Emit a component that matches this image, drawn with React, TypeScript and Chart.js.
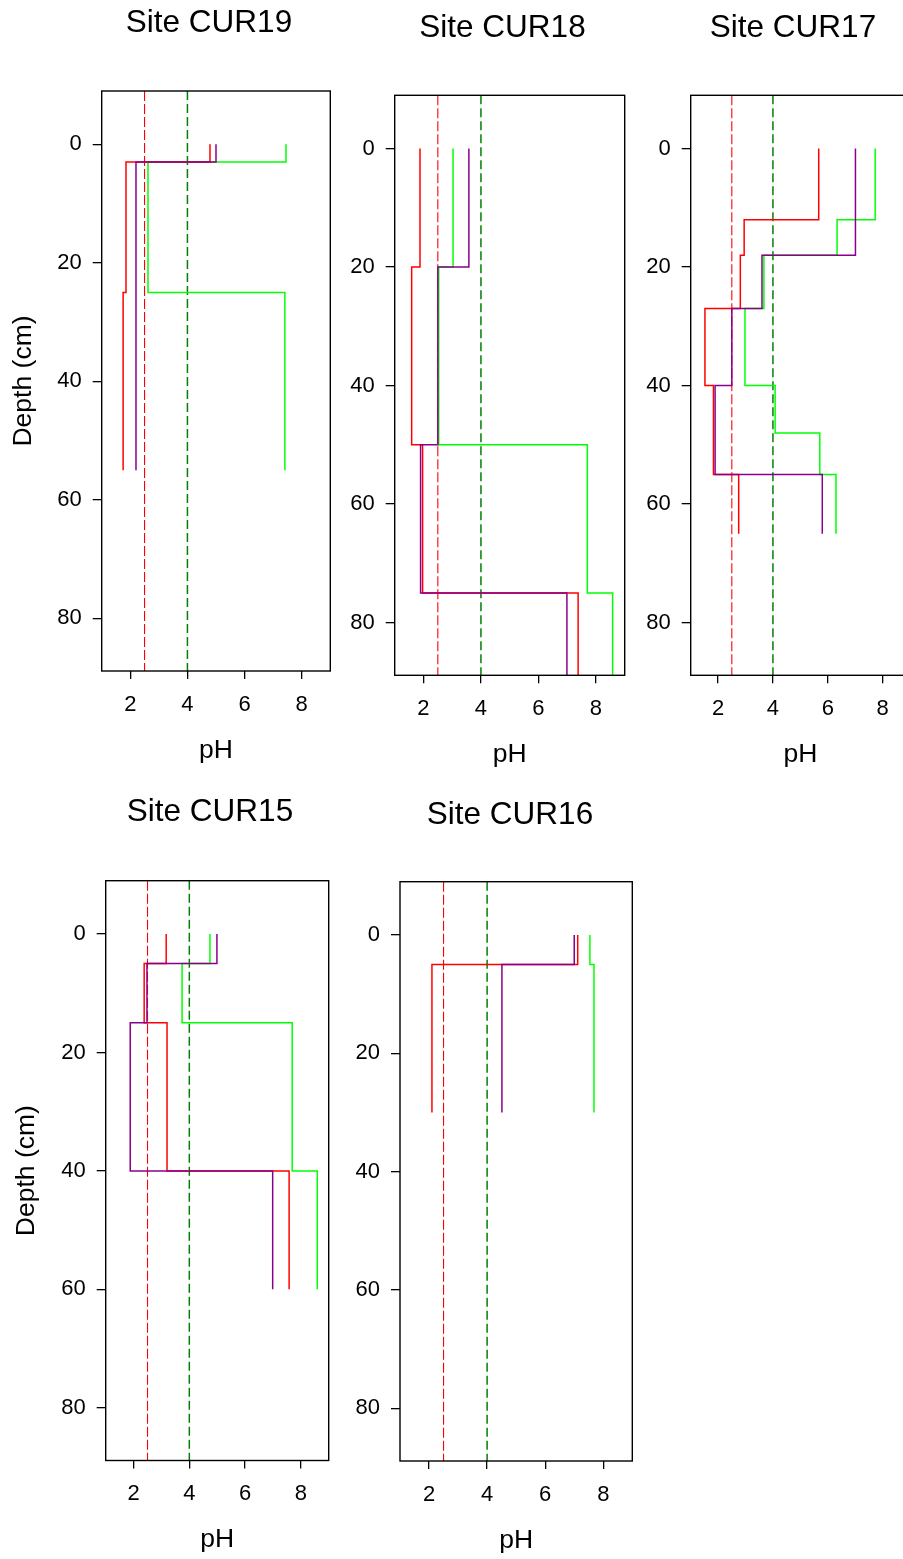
import React, { useEffect, useRef } from "react";
import { Chart, registerables } from "chart.js";

Chart.register(...registerables);

const FONT = "'Liberation Sans', Arial, Helvetica, sans-serif";

// ---- data ----
const siteTitles = ["Site CUR19", "Site CUR18", "Site CUR17", "Site CUR15", "Site CUR16"];

const phTicks = [2, 4, 6, 8];
const depthTicks = [0, 20, 40, 60, 80];
const phRange = [1, 9];
const depthRange = [-9, 88.9];
const thresholdRed = 2.5;
const thresholdGreen = 4;

const cur19Depth = [0, 3, 25, 55];
const cur19Red = [4.79, 1.85, 1.75];
const cur19Green = [7.45, 2.62, 7.41];
const cur19Purple = [5.0, 2.2, 2.2];

const cur18Depth = [0, 20, 50, 75, 95];
const cur18Red = [1.88, 1.59, 1.97, 7.38];
const cur18Green = [3.03, 2.53, 7.7, 8.58];
const cur18Purple = [3.58, 2.5, 1.9, 6.99];

const cur17Depth = [0, 12, 18, 27, 40, 48, 55, 65];
const cur17Red = [5.67, 2.95, 2.81, 1.52, 1.83, 1.83, 2.75];
const cur17Green = [7.73, 6.34, 3.67, 2.98, 4.08, 5.71, 6.3];
const cur17Purple = [7.01, 7.01, 3.6, 2.5, 1.89, 1.89, 5.8];

const cur15Depth = [0, 5, 15, 40, 60];
const cur15Red = [3.17, 2.38, 3.2, 7.58];
const cur15Green = [4.74, 3.74, 7.69, 8.59];
const cur15Purple = [4.99, 2.48, 1.88, 6.99];

const cur16Depth = [0, 5, 30];
const cur16Red = [7.12, 2.1];
const cur16Green = [7.54, 7.68];
const cur16Purple = [7.0, 4.51];

const seriesColors = { red: "#FF0000", green: "#00FF00", purple: "#8B008B" };
const refColors = { red: "#FF0000", green: "#007F00" };

// ---- layout (page px) ----
type Geo = {
  cl: number; ct: number; cw: number; ch: number;
  areaL: number; areaR: number; areaT: number; areaB: number;
  titleCY: number; yTitleCX: number;
};

const geos: Geo[] = [
  { cl: 0, ct: 0, cw: 418, ch: 771, areaL: 101.7, areaR: 330.3, areaT: 91, areaB: 671, titleCY: 23.5, yTitleCX: 24 },
  { cl: 340, ct: 0, cw: 325, ch: 776, areaL: 394.7, areaR: 624.7, areaT: 95.3, areaB: 675.3, titleCY: 28.5, yTitleCX: 0 },
  { cl: 640, ct: 0, cw: 306, ch: 776, areaL: 690.7, areaR: 910, areaT: 95.3, areaB: 675.3, titleCY: 28.5, yTitleCX: 0 },
  { cl: 0, ct: 780, cw: 420, ch: 780, areaL: 105.7, areaR: 328.7, areaT: 880.7, areaB: 1460.5, titleCY: 812.5, yTitleCX: 27 },
  { cl: 340, ct: 780, cw: 340, ch: 780, areaL: 400, areaR: 632.3, areaT: 881.7, areaB: 1461, titleCY: 815.5, yTitleCX: 0 },
];

function stepPoints(depths: number[], values: number[]) {
  const pts: { x: number; y: number }[] = [];
  values.forEach((v, i) => {
    pts.push({ x: v, y: depths[i] });
    pts.push({ x: v, y: depths[i + 1] });
  });
  return pts;
}

const framePlugin = {
  id: "frame",
  afterDraw(chart: any) {
    const { ctx, chartArea: a } = chart;
    ctx.save();
    ctx.strokeStyle = "#000";
    ctx.lineWidth = 1.4;
    ctx.strokeRect(a.left, a.top, a.right - a.left, a.bottom - a.top);
    ctx.restore();
  },
};

type PanelProps = {
  title: string;
  depths: number[];
  red: number[];
  green: number[];
  purple: number[];
  geo: Geo;
  showDepth: boolean;
};

function Panel({ title, depths, red, green, purple, geo, showDepth }: PanelProps) {
  const ref = useRef<HTMLCanvasElement | null>(null);

  useEffect(() => {
    if (!ref.current) return;
    const titleSize = 31.5;
    const titleLH = titleSize * 1.2;
    const labelSize = 26.5;
    const labelLH = labelSize * 1.2;
    const tickSize = 22;
    const tickLH = tickSize * 1.2;

    const yW = geo.areaL - geo.cl;
    const spacer = geo.cl + geo.cw - geo.areaR;
    const titlePadTop = geo.titleCY - geo.ct - titleLH / 2;
    const titlePadBottom = geo.areaT - geo.ct - titlePadTop - titleLH;
    const xH = geo.ct + geo.ch - geo.areaB;
    const phOffset = 79.5;
    const phPadBottom = xH - labelLH / 2 - phOffset;
    const yTitlePadTop = showDepth ? geo.yTitleCX - geo.cl - labelLH / 2 : 0;
    const xTickLen = 8;
    const xTickPad = 33.5 - xTickLen - tickLH / 2;

    const lineBase = { showLine: true, pointRadius: 0, pointHoverRadius: 0, fill: false, clip: 0, tension: 0 };

    const chart = new Chart(ref.current, {
      type: "scatter",
      data: {
        datasets: [
          { ...lineBase, label: "purple", data: stepPoints(depths, purple), borderColor: seriesColors.purple, borderWidth: 1.5 },
          { ...lineBase, label: "red", data: stepPoints(depths, red), borderColor: seriesColors.red, borderWidth: 1.5 },
          { ...lineBase, label: "green", data: stepPoints(depths, green), borderColor: seriesColors.green, borderWidth: 1.5 },
          {
            ...lineBase,
            label: "pH 2.5",
            data: [{ x: thresholdRed, y: depthRange[0] }, { x: thresholdRed, y: depthRange[1] }],
            borderColor: refColors.red,
            borderWidth: 1.1,
            borderDash: [10, 3],
          },
          {
            ...lineBase,
            label: "pH 4",
            data: [{ x: thresholdGreen, y: depthRange[0] }, { x: thresholdGreen, y: depthRange[1] }],
            borderColor: refColors.green,
            borderWidth: 1.5,
            borderDash: [9, 4],
          },
        ],
      } as any,
      options: {
        responsive: false,
        animation: false,
        events: [],
        layout: { padding: 0 },
        plugins: {
          legend: { display: false },
          tooltip: { enabled: false },
          title: {
            display: true,
            text: title,
            color: "#000",
            font: { size: titleSize, family: FONT, weight: "normal", lineHeight: 1.2 },
            padding: { top: titlePadTop, bottom: titlePadBottom },
            fullSize: true,
          },
        },
        scales: {
          x: {
            type: "linear",
            position: "bottom",
            min: phRange[0],
            max: phRange[1],
            afterBuildTicks: (s: any) => {
              s.ticks = phTicks.map((v) => ({ value: v }));
            },
            afterFit: (s: any) => {
              s.height = xH;
            },
            ticks: { color: "#000", font: { size: tickSize, family: FONT, lineHeight: 1.2 }, padding: xTickPad, autoSkip: false, maxRotation: 0 },
            grid: { display: true, drawOnChartArea: false, drawTicks: true, tickLength: xTickLen, color: "#000", lineWidth: 1.3 },
            border: { display: false },
            title: {
              display: true,
              text: "pH",
              color: "#000",
              font: { size: labelSize, family: FONT, lineHeight: 1.2 },
              padding: { top: 0, bottom: phPadBottom },
            },
          },
          y: {
            type: "linear",
            position: "left",
            reverse: true,
            min: depthRange[0],
            max: depthRange[1],
            afterBuildTicks: (s: any) => {
              s.ticks = depthTicks.map((v) => ({ value: v }));
            },
            afterFit: (s: any) => {
              s.width = yW;
            },
            ticks: { color: "#000", font: { size: tickSize, family: FONT, lineHeight: 1.2 }, padding: 11, autoSkip: false },
            grid: { display: true, drawOnChartArea: false, drawTicks: true, tickLength: 9, color: "#000", lineWidth: 1.3 },
            border: { display: false },
            title: {
              display: showDepth,
              text: "Depth (cm)",
              color: "#000",
              font: { size: labelSize, family: FONT, lineHeight: 1.2 },
              padding: { top: yTitlePadTop, bottom: 0 },
            },
          },
          yr: {
            type: "linear",
            position: "right",
            display: true,
            ticks: { display: false },
            grid: { display: false },
            border: { display: false },
            afterFit: (s: any) => {
              s.width = spacer;
            },
          },
        },
      } as any,
      plugins: [framePlugin],
    });
    return () => chart.destroy();
  }, [title, depths, red, green, purple, geo, showDepth]);

  return (
    <div style={{ position: "absolute", left: geo.cl, top: geo.ct, width: geo.cw, height: geo.ch }}>
      <canvas ref={ref} width={geo.cw} height={geo.ch} style={{ width: geo.cw, height: geo.ch, display: "block" }} />
    </div>
  );
}

export default function App() {
  return (
    <div
      style={{
        position: "absolute",
        left: 0,
        top: 0,
        width: 903,
        height: 1559,
        overflow: "hidden",
        background: "#fff",
      }}
    >
      <Panel title={siteTitles[0]} depths={cur19Depth} red={cur19Red} green={cur19Green} purple={cur19Purple} geo={geos[0]} showDepth={true} />
      <Panel title={siteTitles[1]} depths={cur18Depth} red={cur18Red} green={cur18Green} purple={cur18Purple} geo={geos[1]} showDepth={false} />
      <Panel title={siteTitles[2]} depths={cur17Depth} red={cur17Red} green={cur17Green} purple={cur17Purple} geo={geos[2]} showDepth={false} />
      <Panel title={siteTitles[3]} depths={cur15Depth} red={cur15Red} green={cur15Green} purple={cur15Purple} geo={geos[3]} showDepth={true} />
      <Panel title={siteTitles[4]} depths={cur16Depth} red={cur16Red} green={cur16Green} purple={cur16Purple} geo={geos[4]} showDepth={false} />
    </div>
  );
}
